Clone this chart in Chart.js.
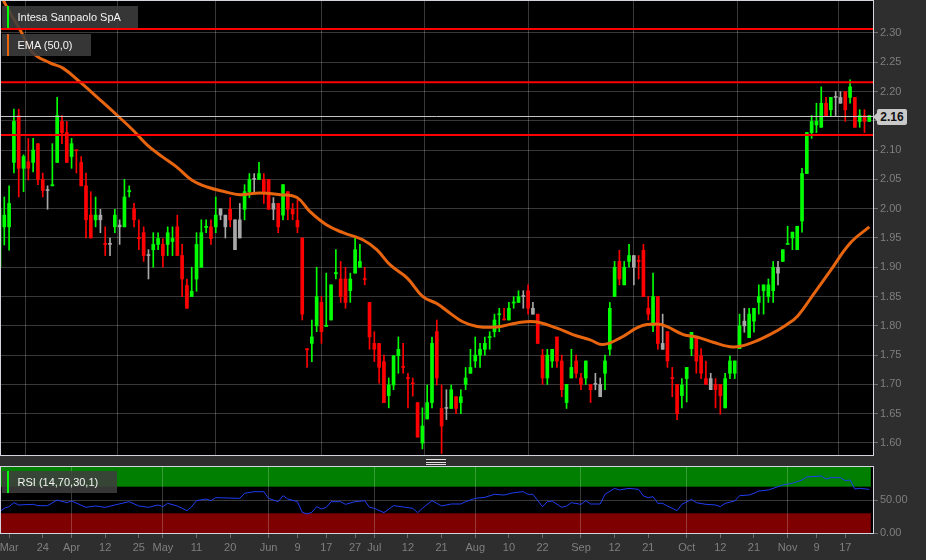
<!DOCTYPE html>
<html>
<head>
<meta charset="utf-8">
<script src="https://cdn.jsdelivr.net/npm/chart.js@4.4.0/dist/chart.umd.min.js"></script>
<style>
    html, body { margin: 0; padding: 0; background: #2e2e2e; }
    #wrap { position: relative; width: 926px; height: 560px; overflow: hidden; font-family: "Liberation Sans", Arial, sans-serif; }
    #mainBox { position: absolute; left: 0; top: 0; width: 926px; height: 456px; }
    #rsiBox { position: absolute; left: 0; top: 460px; width: 926px; height: 100px; }
    .tag { position: absolute; height: 22px; line-height: 22px; background: rgba(62, 62, 62, 0.88); color: #f4f4f4; font-size: 11px; padding-left: 15.5px; box-sizing: border-box; white-space: nowrap; }
    .tag i { position: absolute; left: 4.5px; top: 0; width: 2.5px; height: 100%; }
    #price { position: absolute; left: 877px; width: 30px; height: 16px; line-height: 16px; background: #c9c9c9; color: #111; font-size: 12px; font-weight: bold; text-align: center; border-radius: 2px; }
    #price:before { content: ""; position: absolute; left: -4px; top: 4px; border-top: 4px solid transparent; border-bottom: 4px solid transparent; border-right: 4px solid #c9c9c9; }
    #handle { position: absolute; left: 426px; top: 459px; width: 20px; height: 6px; border-top: 1px solid #e0e0e0; border-bottom: 1px solid #e0e0e0; box-sizing: border-box; }
    #handle:after { content: ""; position: absolute; left: 0; top: 1.5px; width: 20px; height: 1px; background: #e0e0e0; }
</style>
</head>
<body>
<div id="wrap">
    <div id="mainBox"><canvas id="mainChart"></canvas></div>
    <div id="rsiBox"><canvas id="rsiChart"></canvas></div>
    <div class="tag" style="left:2px;top:6px;width:136px;"><i style="background:#00ff00"></i>Intesa Sanpaolo SpA</div>
    <div class="tag" style="left:2px;top:33.5px;width:89px;"><i style="background:#e8650f"></i>EMA (50,0)</div>
    <div class="tag" style="left:2px;top:471px;width:115px;"><i style="background:#00ff00"></i>RSI (14,70,30,1)</div>
    <div id="price">2.16</div>
    <div id="handle"></div>
</div>
<script>
// valeurs journalieres (ouverture, plus haut, plus bas, cloture)
const open = [1.90,1.969,1.969,2.079,2.159,2.069,2.080,2.079,2.111,2.050,
    2.032,2.039,2.079,2.149,2.130,2.089,2.100,2.079,2.039,1.989,
    1.981,1.981,1.941,1.941,1.969,1.972,1.969,2.029,2.000,1.951,
    1.959,1.921,1.930,1.939,1.939,1.939,1.944,1.969,1.920,1.869,
    1.850,1.880,1.900,1.968,1.969,1.969,2.000,1.969,1.999,1.930,
    1.950,1.999,2.029,2.051,2.050,2.050,2.050,2.009,2.009,1.989,
    2.029,1.999,1.980,1.950,1.761,1.770,1.800,1.840,1.799,1.810,
    1.889,1.880,1.880,1.860,1.890,1.900,1.880,1.840,1.770,1.770,
    1.739,1.681,1.699,1.749,1.730,1.711,1.702,1.669,1.600,1.641,
    1.669,1.790,1.659,1.660,1.659,1.679,1.669,1.700,1.719,1.740,
    1.750,1.760,1.780,1.790,1.819,1.811,1.810,1.839,1.840,1.851,
    1.860,1.830,1.820,1.750,1.711,1.740,1.781,1.740,1.669,1.711,
    1.740,1.711,1.711,1.700,1.701,1.700,1.719,1.760,1.850,1.910,
    1.870,1.910,1.920,1.911,1.929,1.830,1.800,1.850,1.770,1.790,
    1.711,1.700,1.681,1.710,1.761,1.779,1.749,1.710,1.710,1.700,
    1.700,1.660,1.719,1.719,1.761,1.808,1.780,1.808,1.840,1.860,
    1.850,1.860,1.900,1.910,1.939,1.950,1.930,1.979,2.060,2.130,
    2.143,2.139,2.180,2.169,2.191,2.190,2.200,2.190,2.190,2.149,
    2.159,2.149];
const high = [2.03,2.020,2.039,2.170,2.170,2.092,2.120,2.120,2.111,2.061,
    2.039,2.111,2.190,2.159,2.149,2.120,2.100,2.089,2.061,2.029,
    2.020,1.999,1.969,1.950,1.999,1.981,2.050,2.039,2.009,1.981,
    1.969,1.930,1.959,1.959,1.949,1.969,1.969,1.989,1.939,1.880,
    1.900,1.959,1.981,1.981,1.981,2.020,2.000,1.989,2.019,1.981,
    2.009,2.041,2.060,2.060,2.079,2.060,2.050,2.019,2.009,2.041,
    2.029,2.009,2.015,1.950,1.761,1.810,1.900,1.850,1.890,1.870,
    1.930,1.910,1.900,1.890,1.950,1.939,1.900,1.840,1.790,1.770,
    1.750,1.711,1.749,1.781,1.770,1.719,1.711,1.669,1.660,1.699,
    1.781,1.810,1.699,1.691,1.699,1.679,1.691,1.729,1.760,1.781,
    1.770,1.781,1.790,1.820,1.830,1.830,1.840,1.850,1.860,1.860,
    1.870,1.840,1.820,1.760,1.760,1.760,1.781,1.750,1.700,1.760,
    1.750,1.719,1.740,1.700,1.719,1.711,1.750,1.840,1.910,1.929,
    1.910,1.939,1.920,1.920,1.939,1.850,1.890,1.850,1.820,1.790,
    1.729,1.700,1.710,1.729,1.789,1.779,1.761,1.740,1.719,1.710,
    1.700,1.719,1.749,1.740,1.820,1.830,1.830,1.830,1.870,1.870,
    1.880,1.910,1.910,1.930,1.970,1.960,1.970,2.069,2.130,2.159,
    2.180,2.208,2.190,2.190,2.200,2.200,2.200,2.220,2.190,2.169,
    2.169,2.159];
const low = [1.85,1.938,1.929,2.061,2.020,2.029,2.049,2.063,2.041,2.020,
    1.999,2.039,2.079,2.111,2.079,2.069,2.061,2.039,1.950,1.950,
    1.969,1.959,1.920,1.920,1.959,1.939,1.969,2.020,1.969,1.930,
    1.910,1.880,1.900,1.930,1.900,1.920,1.920,1.920,1.850,1.830,
    1.850,1.859,1.900,1.959,1.939,1.959,1.981,1.950,1.969,1.930,
    1.950,1.981,2.019,2.029,2.050,2.009,1.999,1.981,1.959,1.981,
    1.981,1.981,1.959,1.810,1.729,1.739,1.790,1.770,1.799,1.810,
    1.880,1.840,1.830,1.840,1.890,1.900,1.870,1.760,1.739,1.702,
    1.669,1.660,1.691,1.719,1.719,1.660,1.680,1.610,1.590,1.641,
    1.660,1.699,1.582,1.640,1.659,1.650,1.650,1.691,1.719,1.729,
    1.729,1.750,1.760,1.781,1.790,1.810,1.810,1.830,1.840,1.830,
    1.820,1.820,1.770,1.700,1.700,1.729,1.729,1.679,1.659,1.711,
    1.711,1.691,1.700,1.669,1.691,1.679,1.691,1.750,1.850,1.870,
    1.870,1.900,1.870,1.880,1.850,1.810,1.790,1.760,1.760,1.729,
    1.679,1.640,1.660,1.670,1.749,1.719,1.710,1.700,1.691,1.660,
    1.649,1.660,1.710,1.710,1.761,1.789,1.780,1.789,1.820,1.820,
    1.840,1.840,1.870,1.910,1.939,1.930,1.930,1.960,2.060,2.120,
    2.130,2.139,2.159,2.159,2.159,2.180,2.149,2.180,2.139,2.139,
    2.130,2.149];
const close = [2.00,1.989,2.009,2.149,2.069,2.089,2.069,2.100,2.050,2.031,
    2.031,2.041,2.159,2.130,2.079,2.111,2.099,2.039,1.981,1.950,
    1.989,1.989,1.939,1.939,1.989,1.969,2.020,2.031,1.981,1.949,
    1.920,1.920,1.939,1.949,1.920,1.959,1.949,1.920,1.880,1.830,
    1.859,1.939,1.959,1.970,1.949,1.989,1.989,1.989,1.981,1.981,
    1.981,2.029,2.050,2.050,2.060,2.029,1.999,1.999,1.969,2.041,
    1.999,1.991,1.969,1.820,1.759,1.781,1.850,1.790,1.801,1.870,
    1.891,1.850,1.840,1.880,1.930,1.910,1.879,1.781,1.760,1.729,
    1.669,1.699,1.749,1.760,1.729,1.710,1.701,1.610,1.629,1.669,
    1.770,1.711,1.629,1.659,1.691,1.659,1.679,1.711,1.729,1.750,
    1.760,1.770,1.781,1.810,1.820,1.810,1.830,1.840,1.850,1.850,
    1.830,1.820,1.770,1.711,1.750,1.760,1.740,1.691,1.700,1.729,
    1.719,1.700,1.740,1.691,1.700,1.679,1.740,1.830,1.900,1.880,
    1.900,1.920,1.900,1.910,1.850,1.820,1.850,1.770,1.760,1.740,
    1.710,1.650,1.699,1.729,1.789,1.740,1.719,1.700,1.691,1.691,
    1.681,1.710,1.740,1.740,1.800,1.800,1.820,1.830,1.850,1.870,
    1.870,1.900,1.890,1.930,1.940,1.960,1.970,2.060,2.130,2.149,
    2.149,2.180,2.159,2.190,2.190,2.180,2.169,2.208,2.139,2.159,
    2.149,2.159];
// seances sans variation (bougies grises)
const flatIdx = [10,21,23,25,31,46,47,49,50,53,57,93,109,111,124,125,132,138,148,155,162,174,175];

// moyenne mobile EMA(50)
const emaAt = [0,1.1,4.3,7.0,10.5,13.2,16.8,20.9,24.4,27.8,30.7,34.0,36.9,40.0,43.2,46.9,50.0,54.2,58.4,61.9,
    64.6,68.1,71.5,75.6,78.5,81.3,84.8,88.1,91.0,93.7,96.4,99.4,103.5,107.7,111.4,116.0,119.3,122.9,125.6,129.1,
    133.3,136.7,138.8,142.3,145.1,148.5,152.7,156.2,160.3,163.8,166.1,169.3,172.8,177.0,181.0];
const emaVal = [2.372,2.351,2.305,2.266,2.249,2.240,2.216,2.186,2.160,2.134,2.109,2.088,2.071,2.049,2.037,2.029,2.024,2.027,2.024,2.019,
    1.995,1.972,1.959,1.947,1.930,1.904,1.882,1.850,1.838,1.822,1.807,1.799,1.798,1.805,1.807,1.796,1.785,1.776,1.768,1.779,
    1.799,1.803,1.799,1.785,1.781,1.772,1.764,1.770,1.785,1.802,1.817,1.853,1.893,1.941,1.969];

// RSI(14)
const rsiAt = [0,1,2,3,4,7,8,10,12,14,15,18,20,22,24,27,29,31,33,34,35,37,39,40,41,43,44,45,50,51,53,55,56,58,59,
    60,62,63,64,65,66,67,68,69,71,72,74,76,77,78,80,82,85,86,87,88,90,92,94,96,97,99,101,103,105,107,109,110,111,113,
    114,115,117,118,119,121,122,123,125,126,128,129,131,133,134,135,136,137,138,139,141,142,144,145,147,149,150,151,153,154,
    156,157,158,160,161,162,163,165,167,168,171,172,173,175,176,177,178,179,181];
const rsiVal = [32.4,37.5,40,46,42.5,43.5,41.5,41.5,50,46,48.5,39,41,39,42.5,47.5,41,39,42.5,40,45,41,34,40,49,51.5,49,53.5,52.5,60,62.5,62.5,52.5,47.5,56.5,
    51.5,47.5,31.5,29,31.5,40,36.5,39,47.5,47.5,43.5,47.5,49,39,37.5,31,41.5,38.5,37.5,31,37.5,49,41,44,44,47.5,52.5,54,58.5,57.5,61,62.5,58.5,58.5,40,
    47.5,48.5,39,41,46,43.5,49,44,44,58.5,67.5,65,67.5,66,56,53.5,55,45,45,41,34,43.5,51,46,43.5,42.5,40,45,48.5,56.5,
    57.5,60,63.5,65,67.5,70,72.5,75,80,84.5,86,81.5,83.5,83.5,79,80,66.5,67.5,66];

// niveaux horizontaux (supports / resistances)
const levels = [2.307, 2.216, 2.126];

// axes
const yTicks = [1.60,1.65,1.70,1.75,1.80,1.85,1.90,1.95,2.00,2.05,2.10,2.15,2.20,2.25,2.30];
const rsiTicks = [0, 50];
const tickIdx = [2,9,15,22,29,34,41,48,56,62,68,74,78,85,92,99,106,113,121,128,135,143,150,157,164,170,176];
const tickText = ['Mar','24','Apr','12','25','May','11','20','Jun','9','17','27','Jul','12','21','Aug','10','22','Sep','12','21','Oct','12','21','Nov','9','17'];
const gridIdx = [15,34,56,78,99,121,143,164];

const GREEN = '#00ff00', RED = '#ff0000', GRAY = '#a8a8a8';
const GRID = 'rgba(255,255,255,0.22)';
const FONT = { family: '"Liberation Sans", Arial, sans-serif', size: 11 };
const X_MIN = 0.105, X_MAX = 181.77;

function candleColor(i) {
    if (flatIdx.includes(i)) return GRAY;
    return close[i] >= open[i] ? GREEN : RED;
}

// pas de marge automatique autour des axes
function noPad(s) {
    s.paddingTop = 0;
    s.paddingBottom = 0;
    s.paddingLeft = 0;
    s.paddingRight = 0;
}

// fond noir de la zone de trace + cadre
const plotFrame = {
    id: 'plotFrame',
    beforeDraw(chart) {
        const { ctx, chartArea: a } = chart;
        ctx.save();
        ctx.fillStyle = '#000';
        ctx.fillRect(a.left, a.top, a.right - a.left, a.bottom - a.top);
        const bands = chart.options.plugins.plotFrame.bands || [];
        const xs = chart.scales.x, ys = chart.scales.y;
        const right = xs.getPixelForValue(rsiAt[rsiAt.length - 1]) + 1.5;
        bands.forEach(b => {
            const y1 = ys.getPixelForValue(b.to), y2 = ys.getPixelForValue(b.from);
            ctx.fillStyle = b.color;
            ctx.fillRect(a.left + 1, y1, right - a.left - 1, y2 - y1);
        });
        ctx.restore();
    },
    afterDraw(chart) {
        const { ctx, chartArea: a } = chart;
        ctx.save();
        ctx.strokeStyle = '#d4d4dc';
        ctx.lineWidth = 1;
        ctx.strokeRect(a.left + 0.5, a.top + 0.5, a.right - a.left, a.bottom - a.top - 1);
        ctx.restore();
    }
};

// lignes rouges et ligne du dernier cours
const priceLines = {
    id: 'priceLines',
    afterDatasetsDraw(chart) {
        const { ctx, chartArea: a } = chart;
        const ys = chart.scales.y;
        ctx.save();
        ctx.strokeStyle = '#ff0000';
        ctx.lineWidth = 2;
        levels.forEach(v => {
            const y = ys.getPixelForValue(v);
            ctx.beginPath();
            ctx.moveTo(a.left, y);
            ctx.lineTo(a.right, y);
            ctx.stroke();
        });
        const last = close[close.length - 1];
        const yp = Math.round(ys.getPixelForValue(last)) + 0.5;
        ctx.strokeStyle = '#c4c4c4';
        ctx.lineWidth = 1;
        ctx.beginPath();
        ctx.moveTo(a.left, yp);
        ctx.lineTo(a.right, yp);
        ctx.stroke();
        ctx.restore();
        const tag = document.getElementById('price');
        tag.textContent = last.toFixed(2);
        tag.style.top = (yp - 8) + 'px';
    }
};

const bodyData = open.map((o, i) => ({ x: i, y: [o, close[i]] }));
const wickData = low.map((l, i) => ({ x: i, y: [l, high[i]] }));

new Chart(document.getElementById('mainChart'), {
    type: 'bar',
    data: {
        datasets: [
            {
                type: 'line',
                label: 'EMA (50,0)',
                data: emaAt.map((x, k) => ({ x: x, y: emaVal[k] })),
                borderColor: '#e8650f',
                borderWidth: 3,
                pointRadius: 0,
                tension: 0.4,
                order: 0
            },
            {
                label: 'corps',
                data: bodyData,
                backgroundColor: ctx => candleColor(ctx.dataIndex),
                barThickness: 3,
                minBarLength: 1,
                grouped: false,
                order: 1
            },
            {
                label: 'meches',
                data: wickData,
                backgroundColor: ctx => candleColor(ctx.dataIndex),
                barThickness: 1,
                minBarLength: 1,
                grouped: false,
                order: 2
            }
        ]
    },
    options: {
        responsive: true,
        maintainAspectRatio: false,
        animation: false,
        layout: { padding: 0 },
        plugins: { legend: { display: false }, tooltip: { enabled: false }, plotFrame: {} },
        scales: {
            x: {
                type: 'linear', min: X_MIN, max: X_MAX, offset: false,
                afterBuildTicks: s => { s.ticks = gridIdx.map(v => ({ value: v })); },
                afterFit: s => { s.height = 0; noPad(s); },
                ticks: { display: false },
                grid: { color: GRID, drawTicks: false },
                border: { display: false }
            },
            y: {
                position: 'right', min: 1.5778, max: 2.3563,
                afterBuildTicks: s => { s.ticks = yTicks.map(v => ({ value: v })); },
                afterFit: s => { s.width = 53; noPad(s); },
                ticks: { color: '#7f7f7f', font: FONT, padding: 2, callback: v => v.toFixed(2) },
                grid: { color: GRID, tickColor: '#707070', tickLength: 5 },
                border: { display: false }
            }
        }
    },
    plugins: [plotFrame, priceLines]
});

new Chart(document.getElementById('rsiChart'), {
    type: 'line',
    data: {
        datasets: [{
            label: 'RSI (14,70,30,1)',
            data: rsiAt.map((x, k) => ({ x: x, y: rsiVal[k] })),
            borderColor: '#1f3cf0',
            borderWidth: 1,
            pointRadius: 0,
            tension: 0
        }]
    },
    options: {
        responsive: true,
        maintainAspectRatio: false,
        animation: false,
        layout: { padding: { top: 6 } },
        plugins: {
            legend: { display: false }, tooltip: { enabled: false },
            plotFrame: { bands: [{ from: 70, to: 100, color: '#007f00' }, { from: 0, to: 30, color: '#7f0000' }] }
        },
        scales: {
            x: {
                type: 'linear', min: X_MIN, max: X_MAX, offset: false,
                afterBuildTicks: s => { s.ticks = tickIdx.map(v => ({ value: v })); },
                afterFit: s => { s.height = 26; noPad(s); },
                ticks: { color: '#7f7f7f', font: FONT, padding: 3, autoSkip: false, maxRotation: 0,
                    callback: (v, k) => tickText[k] },
                grid: {
                    color: ctx => (ctx.tick && gridIdx.includes(ctx.tick.value)) ? GRID : 'rgba(0,0,0,0)',
                    tickColor: '#6a6a6a', tickLength: 4
                },
                border: { display: false }
            },
            y: {
                position: 'right', min: -1.05, max: 101.05,
                afterBuildTicks: s => { s.ticks = rsiTicks.map(v => ({ value: v })); },
                afterFit: s => { s.width = 53; noPad(s); },
                ticks: { color: '#7f7f7f', font: FONT, padding: 2, callback: v => v.toFixed(2) },
                grid: { color: GRID, tickColor: '#707070', tickLength: 5 },
                border: { display: false }
            }
        }
    },
    plugins: [plotFrame]
});
</script>
</body>
</html>
